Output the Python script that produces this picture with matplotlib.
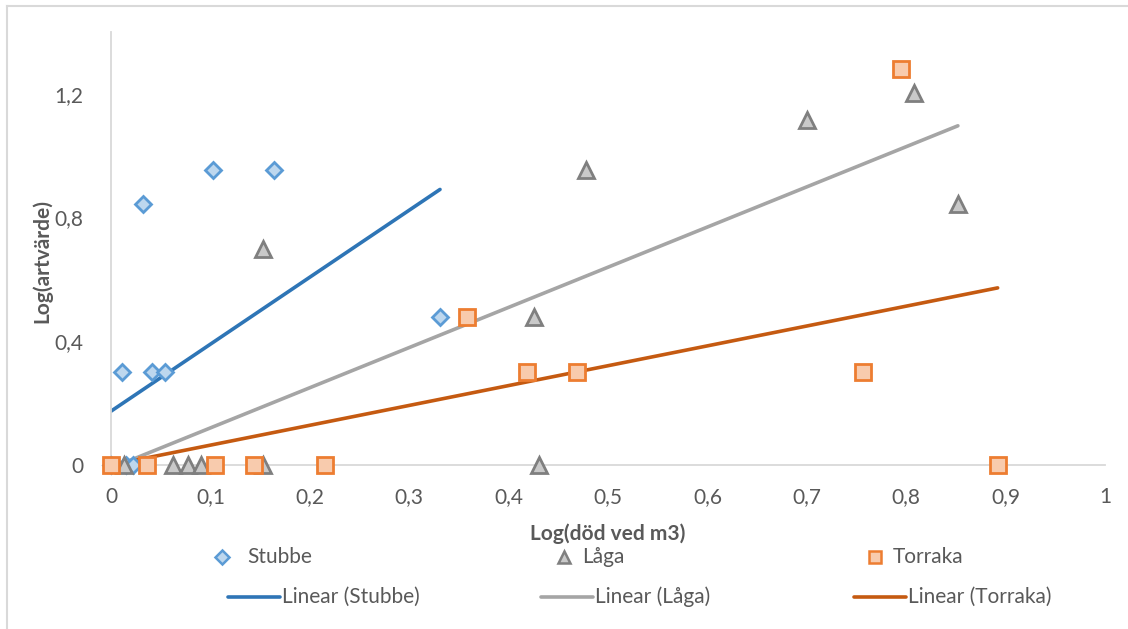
import matplotlib
matplotlib.use("Agg")
import matplotlib.pyplot as plt
import numpy as np
from matplotlib.lines import Line2D
from matplotlib.ticker import FuncFormatter, FixedLocator

plt.rcParams['font.family'] = ['Lato', 'DejaVu Sans']

# --- data: log(dead wood m3) vs log(species value) ---
stubbe_x = [0.0, 0.011, 0.015, 0.022, 0.032, 0.041, 0.054, 0.103, 0.164, 0.331]
stubbe_y = [0.0, 0.301, 0.0, 0.0, 0.845, 0.301, 0.301, 0.954, 0.954, 0.477]

laga_x = [0.013, 0.062, 0.077, 0.091, 0.153, 0.153, 0.426, 0.431, 0.478, 0.700, 0.808, 0.852]
laga_y = [0.0, 0.0, 0.0, 0.0, 0.0, 0.699, 0.477, 0.0, 0.954, 1.114, 1.204, 0.845]

torraka_x = [0.0, 0.036, 0.105, 0.144, 0.215, 0.358, 0.419, 0.469, 0.757, 0.795, 0.892]
torraka_y = [0.0, 0.0, 0.0, 0.0, 0.0, 0.477, 0.301, 0.301, 0.301, 1.279, 0.0]

# linear trend coefficients (intercept, slope)
trend_stubbe = (0.174, 2.166)
trend_laga = (-0.010, 1.299)
trend_torraka = (0.0, 0.642)

x_ticks = [0, 0.1, 0.2, 0.3, 0.4, 0.5, 0.6, 0.7, 0.8, 0.9, 1.0]
y_ticks = [0, 0.4, 0.8, 1.2]

series_names = ["Stubbe", "Låga", "Torraka"]
trend_names = ["Linear (Stubbe)", "Linear (Låga)", "Linear (Torraka)"]

# --- styles ---
W, H = 1128, 629
FS = 15
marker_styles = [
    dict(marker='D', ms=8.5, mfc='#BDD7EE', mec='#5B9BD5', mew=2.0),
    dict(marker='^', ms=11, mfc='#C9C9C9', mec='#7F7F7F', mew=2.0),
    dict(marker='s', ms=11, mfc='#F8CBAD', mec='#ED7D31', mew=2.0),
]
line_colors = ['#2E75B6', '#A5A5A5', '#C55A11']
text_color = '#595959'
axis_color = '#D9D9D9'

fig = plt.figure(figsize=(W / 100, H / 100), dpi=100)
ax = fig.add_axes([111 / W, (H - 465) / H, 994 / W, 433 / H])

series = [(stubbe_x, stubbe_y), (laga_x, laga_y), (torraka_x, torraka_y)]
trends = [trend_stubbe, trend_laga, trend_torraka]

# trend lines under the markers
for (xs, _), (b0, b1), c in zip(series, trends, line_colors):
    xl = np.array([min(xs), max(xs)])
    ax.plot(xl, b0 + b1 * xl, color=c, lw=2.6, solid_capstyle='round', zorder=2)

for (xs, ys), st in zip(series, marker_styles):
    ax.plot(xs, ys, ls='none', zorder=3, clip_on=False, **st)

ax.set_xlim(0, 1)
ax.set_ylim(0, 1.4)
ax.xaxis.set_major_locator(FixedLocator(x_ticks))
ax.yaxis.set_major_locator(FixedLocator(y_ticks))
fmt = FuncFormatter(lambda v, p: ('%g' % round(v, 2)).replace('.', ','))
ax.xaxis.set_major_formatter(fmt)
ax.yaxis.set_major_formatter(fmt)
ax.tick_params(axis='both', length=0, labelsize=FS, colors=text_color)
ax.tick_params(axis='x', pad=16)
ax.tick_params(axis='y', pad=20)

for s in ['top', 'right']:
    ax.spines[s].set_visible(False)
for s in ['left', 'bottom']:
    ax.spines[s].set_color(axis_color)
    ax.spines[s].set_linewidth(1.3)
ax.set_facecolor('none')

ax.set_xlabel("Log(död ved m3)", fontsize=FS, fontweight='bold', color=text_color, labelpad=12)
ax.set_ylabel("Log(artvärde)", fontsize=FS, fontweight='bold', color=text_color)
ax.yaxis.set_label_coords(-0.059, 0.47)

# --- legend (two rows, three columns) ---
def fx(px):
    return px / W

def fy(py):
    return 1 - py / H

marker_cx = [222, 564, 875]
marker_tx = [247, 582, 893]
row1_y = 557
for cx, tx, st, name in zip(marker_cx, marker_tx, marker_styles, series_names):
    small = dict(st)
    small['ms'] = st['ms'] * 0.85
    small['mew'] = 1.8
    fig.add_artist(Line2D([fx(cx)], [fy(row1_y)], transform=fig.transFigure, ls='none', **small))
    fig.text(fx(tx), fy(row1_y), name, fontsize=FS, color=text_color, va='center', ha='left')

line_x0 = [228, 541, 854]
line_x1 = [280, 593, 906]
row2_y = 597
for x0, x1, c, name in zip(line_x0, line_x1, line_colors, trend_names):
    fig.add_artist(Line2D([fx(x0), fx(x1)], [fy(row2_y), fy(row2_y)], transform=fig.transFigure,
                          color=c, lw=2.6, solid_capstyle='round'))
    fig.text(fx(x1 + 2), fy(row2_y), name, fontsize=FS, color=text_color, va='center', ha='left')

# outer frame (top and left edges)
fig.add_artist(Line2D([fx(6.5), fx(W)], [fy(5.5), fy(5.5)], transform=fig.transFigure, color=axis_color, lw=1.5))
fig.add_artist(Line2D([fx(6.5), fx(6.5)], [fy(5.5), fy(H)], transform=fig.transFigure, color=axis_color, lw=1.5))

fig.savefig("out.png", dpi=100, facecolor='white')
